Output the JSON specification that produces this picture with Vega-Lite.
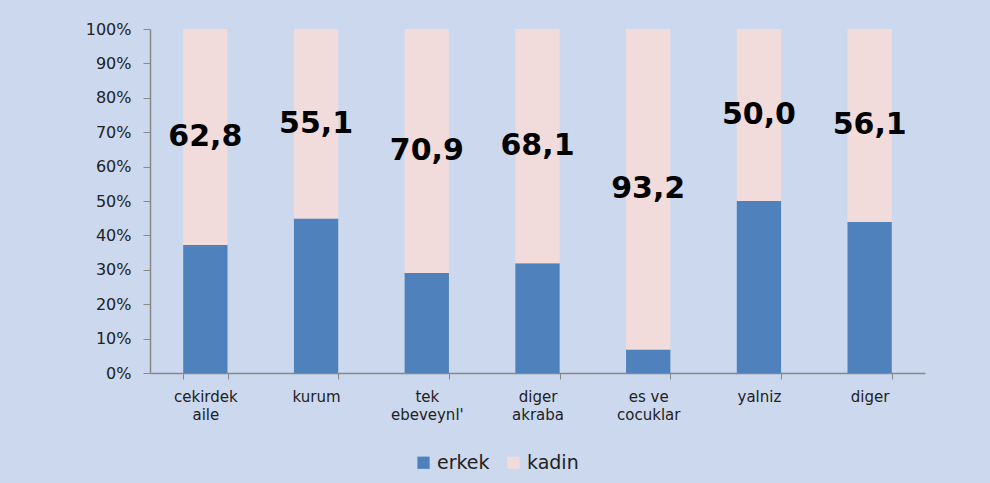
{
  "$schema": "https://vega.github.io/schema/vega-lite/v6.json",
  "width": 775,
  "height": 344,
  "autosize": "none",
  "padding": {"left": 150, "top": 29, "right": 65, "bottom": 110},
  "background": "#cbd8ee",
  "config": {
    "view": {"stroke": null},
    "locale": {"number": {"decimal": ",", "thousands": ".", "grouping": [3], "currency": ["", " TL"]}},
    "axisY": {
      "title": null,
      "values": [0, 10, 20, 30, 40, 50, 60, 70, 80, 90, 100],
      "labelExpr": "datum.value + '%'",
      "grid": false,
      "domainColor": "#888888",
      "tickColor": "#888888",
      "domainWidth": 1.5,
      "tickSize": 7,
      "labelFont": "DejaVu Sans",
      "labelFontSize": 16,
      "labelColor": "#222222",
      "labelPadding": 12
    }
  },
  "data": {
    "values": [
      {"kategori": "cekirdek aile", "erkek": 37.2, "kadin": 62.8, "toplam": 100},
      {"kategori": "kurum", "erkek": 44.9, "kadin": 55.1, "toplam": 100},
      {"kategori": "tek ebeveynl'", "erkek": 29.1, "kadin": 70.9, "toplam": 100},
      {"kategori": "diger akraba", "erkek": 31.9, "kadin": 68.1, "toplam": 100},
      {"kategori": "es ve cocuklar", "erkek": 6.8, "kadin": 93.2, "toplam": 100},
      {"kategori": "yalniz", "erkek": 50.0, "kadin": 50.0, "toplam": 100},
      {"kategori": "diger", "erkek": 43.9, "kadin": 56.1, "toplam": 100}
    ]
  },
  "encoding": {
    "x": {
      "field": "kategori",
      "type": "nominal",
      "sort": null,
      "scale": {"paddingInner": 0.6, "paddingOuter": 0.3},
      "axis": {
        "title": null,
        "labelAngle": 0,
        "tickBand": "extent",
        "tickSize": 6,
        "domainColor": "#888888",
        "tickColor": "#888888",
        "domainWidth": 1.5,
        "labelFont": "DejaVu Sans",
        "labelFontSize": 15,
        "labelColor": "#222222",
        "labelPadding": 10,
        "labelLineHeight": 18,
        "labelBaseline": "top",
        "labelExpr": "datum.label == 'es ve cocuklar' ? ['es ve', 'cocuklar'] : split(datum.label, ' ')"
      }
    }
  },
  "layer": [
    {
      "transform": [{"fold": ["erkek", "kadin"], "as": ["cinsiyet", "deger"]}],
      "mark": {"type": "bar"},
      "encoding": {
        "y": {
          "field": "deger",
          "type": "quantitative",
          "stack": "zero",
          "scale": {"domain": [0, 100], "nice": false}
        },
        "color": {
          "field": "cinsiyet",
          "type": "nominal",
          "scale": {"domain": ["erkek", "kadin"], "range": ["#4f81bd", "#f2dcdb"]},
          "legend": {
            "title": null,
            "orient": "none",
            "legendX": 264,
            "legendY": 424,
            "direction": "horizontal",
            "symbolType": "square",
            "symbolSize": 150,
            "symbolStrokeWidth": 0,
            "labelFont": "DejaVu Sans",
            "labelFontSize": 19,
            "labelColor": "#222222",
            "columnPadding": 14
          }
        },
        "order": {"field": "cinsiyet"}
      }
    },
    {
      "transform": [{"fold": ["erkek", "toplam"], "as": ["sinir", "konum"]}],
      "mark": {"type": "text", "font": "DejaVu Sans", "fontWeight": "bold", "fontSize": 30, "color": "#000000", "baseline": "middle"},
      "encoding": {
        "y": {"field": "konum", "type": "quantitative", "aggregate": "mean"},
        "text": {"field": "kadin", "type": "quantitative", "aggregate": "max", "format": ".1f"}
      }
    }
  ]
}
